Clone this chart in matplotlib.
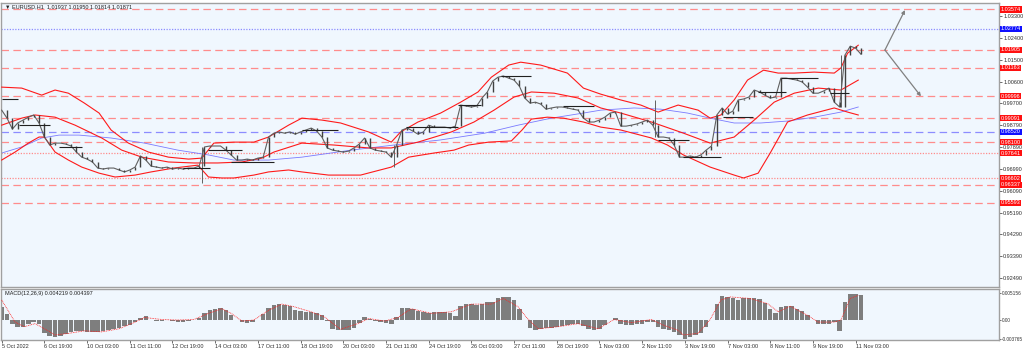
import matplotlib
matplotlib.use("Agg")
import matplotlib.pyplot as plt
import matplotlib.transforms as mtransforms
import numpy as np

# EURUSD H1, one value every 4 bars (close)
bar_step = 4
close = [
    0.9942, 0.9909, 0.9864, 0.9889, 0.9901, 0.9913, 0.9922, 0.9889, 0.9831, 0.9798,
    0.9806, 0.9806, 0.9802, 0.9794, 0.9769, 0.9748, 0.9740, 0.9728, 0.9703, 0.9699,
    0.9703, 0.9703, 0.9695, 0.9687, 0.9695, 0.9707, 0.9753, 0.9736, 0.9711, 0.9707,
    0.9703, 0.9707, 0.9699, 0.9703, 0.9699, 0.9703, 0.9703, 0.9711, 0.9790, 0.9794,
    0.9794, 0.9794, 0.9777, 0.9757, 0.9736, 0.9736, 0.9740, 0.9736, 0.9744, 0.9748,
    0.9831, 0.9847, 0.9852, 0.9847, 0.9852, 0.9843, 0.9852, 0.9860, 0.9868, 0.9856,
    0.9831, 0.9786, 0.9777, 0.9773, 0.9769, 0.9773, 0.9786, 0.9802, 0.9827, 0.9786,
    0.9777, 0.9773, 0.9769, 0.9748, 0.9798, 0.9860, 0.9868, 0.9856, 0.9843, 0.9852,
    0.9880, 0.9872, 0.9872, 0.9872, 0.9868, 0.9876, 0.9963, 0.9959, 0.9955, 0.9959,
    0.9992, 1.0017, 1.0062, 1.0078, 1.0083, 1.0074, 1.0066, 1.0041, 0.9992, 0.9971,
    0.9975, 0.9967, 0.9946, 0.9951, 0.9955, 0.9955, 0.9951, 0.9946, 0.9942, 0.9909,
    0.9893, 0.9893, 0.9901, 0.9913, 0.9930, 0.9934, 0.9876, 0.9876, 0.9880, 0.9885,
    0.9893, 0.9901, 0.9880, 0.9831, 0.9831, 0.9827, 0.9798, 0.9748, 0.9748, 0.9753,
    0.9748, 0.9757, 0.9777, 0.9794, 0.9922, 0.9951, 0.9926, 0.9938, 0.9984, 0.9988,
    0.9996, 1.0025, 1.0017, 1.0004, 0.9992, 0.9996, 1.0074, 1.0074, 1.0070, 1.0066,
    1.0058, 1.0037, 1.0012, 1.0012, 1.0021, 1.0033, 0.9975, 0.9955, 1.0169, 1.0206,
    1.0198, 1.0173,
]
# a few long wicks
wick_bars = [150, 294, 490, 629]
wick_lo = [0.9641, 0.9707, 0.9831, 0.9955]
wick_hi = [0.9790, 0.9798, 0.9984, 1.0169]

# short horizontal black segments
seg_start = [0, 13, 43, 136, 155, 172, 225, 303, 342, 374, 421, 492, 511, 541, 567, 584, 621]
seg_end = [12, 36, 60, 156, 180, 204, 252, 342, 359, 397, 444, 515, 539, 563, 588, 612, 635]
seg_price = [0.9988, 0.9880, 0.9790, 0.9703, 0.9777, 0.9728, 0.9860, 0.9872, 0.9963, 1.0083,
             0.9959, 0.9819, 0.9748, 0.9913, 1.0017, 1.0074, 1.0012]

# bollinger bands
up_bars = [0, 15, 30, 40, 50, 62, 73, 82, 95, 110, 125, 140, 150, 159, 174, 189, 200, 215, 225,
           240, 254, 275, 292, 299, 312, 329, 344, 357, 367, 380, 389, 404, 424, 436, 449, 464,
           479, 492, 507, 522, 531, 539, 549, 559, 571, 582, 594, 609, 624, 629, 634, 642]
up_vals = [1.0037, 1.0033, 1.0004, 1.0025, 1.0012, 0.9971, 0.9930, 0.9860, 0.9806, 0.9769,
           0.9748, 0.9740, 0.9744, 0.9806, 0.9810, 0.9810, 0.9831, 0.9880, 0.9909, 0.9901,
           0.9889, 0.9852, 0.9810, 0.9852, 0.9893, 0.9930, 0.9975, 1.0017, 1.0078, 1.0128,
           1.0140, 1.0128, 1.0095, 1.0033, 1.0008, 0.9984, 0.9963, 0.9934, 0.9963, 0.9942,
           0.9909, 0.9922, 0.9984, 1.0066, 1.0107, 1.0095, 1.0095, 1.0099, 1.0095, 1.0116,
           1.0177, 1.0210]
mid_bars = [0, 15, 25, 40, 55, 75, 90, 105, 125, 144, 162, 180, 195, 204, 225, 249, 275, 292,
            312, 337, 354, 369, 384, 397, 414, 432, 449, 464, 487, 511, 531, 549, 564, 579, 594,
            612, 629, 642]
mid_vals = [0.9880, 0.9909, 0.9922, 0.9913, 0.9880, 0.9827, 0.9777, 0.9748, 0.9728, 0.9724,
            0.9724, 0.9728, 0.9744, 0.9769, 0.9806, 0.9798, 0.9786, 0.9786, 0.9810, 0.9852,
            0.9893, 0.9942, 0.9996, 1.0017, 1.0012, 0.9992, 0.9951, 0.9930, 0.9893, 0.9847,
            0.9806, 0.9831, 0.9901, 0.9975, 1.0012, 1.0033, 1.0025, 1.0066]
low_bars = [0, 10, 20, 28, 32, 40, 50, 60, 73, 85, 100, 112, 129, 147, 155, 165, 174, 189, 200,
            215, 225, 245, 269, 292, 305, 324, 339, 350, 365, 382, 390, 397, 409, 421, 436, 449,
            464, 487, 499, 511, 531, 549, 556, 567, 576, 589, 604, 624, 634, 642]
low_vals = [0.9736, 0.9769, 0.9806, 0.9831, 0.9831, 0.9769, 0.9736, 0.9707, 0.9682, 0.9666,
            0.9674, 0.9687, 0.9703, 0.9715, 0.9666, 0.9662, 0.9662, 0.9674, 0.9687, 0.9695,
            0.9687, 0.9674, 0.9674, 0.9707, 0.9748, 0.9765, 0.9777, 0.9798, 0.9810, 0.9815,
            0.9860, 0.9905, 0.9913, 0.9909, 0.9893, 0.9872, 0.9860, 0.9827, 0.9798, 0.9757,
            0.9707, 0.9674, 0.9662, 0.9682, 0.9765, 0.9893, 0.9922, 0.9951, 0.9934, 0.9922]

# slow moving average (blue)
ma_bars = [0, 15, 30, 43, 58, 82, 107, 132, 155, 174, 200, 225, 262, 294, 329, 362, 387, 412,
           436, 449, 474, 494, 514, 531, 549, 569, 589, 609, 629, 642]
ma_vals = [0.9765, 0.9790, 0.9827, 0.9839, 0.9839, 0.9827, 0.9806, 0.9777, 0.9757, 0.9736,
           0.9736, 0.9748, 0.9777, 0.9798, 0.9819, 0.9847, 0.9880, 0.9909, 0.9930, 0.9942,
           0.9951, 0.9946, 0.9930, 0.9909, 0.9889, 0.9889, 0.9897, 0.9913, 0.9934, 0.9955]

# horizontal levels
lvl_price = [1.03574, 1.02774, 1.01905, 1.01163, 0.99996, 0.99091, 0.98520, 0.98100,
             0.97641, 0.96602, 0.96337, 0.95593]
lvl_color = ["r", "b", "r", "r", "r", "r", "b", "r", "r", "r", "r", "r"]
lvl_style = ["dash", "dot", "dash", "dash", "dash", "dash", "dash", "dash",
             "dot", "dot", "dash", "dash"]

# projection arrows
arrow_from = (662, 1.0190)
arrow_to = [(677, 1.0355), (689, 0.9999)]

price_ticks = [1.033, 1.024, 1.015, 1.006, 0.997, 0.9879, 0.9789, 0.9699, 0.9609, 0.9519,
               0.9429, 0.9339, 0.9249]
price_tick_labels = ["1.03300", "1.02400", "1.01500", "1.00600", "0.99700", "0.98790", "0.97890",
                     "0.96990", "0.96090", "0.95190", "0.94290", "0.93390", "0.92490"]

# MACD histogram (same 4-bar steps) and signal line
macd = [
    0.0025, 0.0010, -0.0009, -0.0015, -0.0015, -0.0008, -0.0005, -0.0009, -0.0027, -0.0032,
    -0.0034, -0.0032, -0.0028, -0.0025, -0.0023, -0.0022, -0.0024, -0.0025, -0.0024, -0.0023,
    -0.0021, -0.0019, -0.0016, -0.0013, -0.0010, -0.0004, 0.0003, 0.0006, 0.0000, -0.0003,
    -0.0002, -0.0001, -0.0003, -0.0004, -0.0004, -0.0003, 0.0000, 0.0003, 0.0012, 0.0019,
    0.0021, 0.0023, 0.0019, 0.0008, -0.0001, -0.0005, -0.0006, -0.0004, -0.0001, 0.0010,
    0.0022, 0.0029, 0.0030, 0.0029, 0.0026, 0.0018, 0.0016, 0.0015, 0.0014, 0.0013,
    0.0009, -0.0003, -0.0018, -0.0021, -0.0021, -0.0020, -0.0016, -0.0007, 0.0005, 0.0001,
    -0.0002, -0.0004, -0.0006, -0.0008, 0.0005, 0.0022, 0.0023, 0.0020, 0.0017, 0.0014,
    0.0012, 0.0014, 0.0015, 0.0015, 0.0012, 0.0006, 0.0027, 0.0030, 0.0031, 0.0029,
    0.0030, 0.0034, 0.0035, 0.0041, 0.0043, 0.0044, 0.0038, 0.0020, -0.0001, -0.0016,
    -0.0021, -0.0019, -0.0017, -0.0016, -0.0015, -0.0012, -0.0010, -0.0009, -0.0008, -0.0013,
    -0.0018, -0.0020, -0.0019, -0.0010, 0.0000, 0.0003, -0.0008, -0.0010, -0.0011, -0.0009,
    -0.0008, -0.0005, -0.0004, -0.0014, -0.0019, -0.0021, -0.0024, -0.0030, -0.0037, -0.0034,
    -0.0031, -0.0027, -0.0015, 0.0000, 0.0030, 0.0046, 0.0044, 0.0041, 0.0038, 0.0041,
    0.0041, 0.0041, 0.0040, 0.0033, 0.0020, 0.0012, 0.0025, 0.0026, 0.0026, 0.0021,
    0.0017, 0.0008, 0.0000, -0.0008, -0.0009, -0.0008, -0.0005, -0.0022, 0.0035, 0.0049,
    0.0050, 0.0047,
]
sig_bars = [0, 10, 17, 25, 32, 40, 50, 62, 75, 88, 100, 107, 120, 132, 144, 155, 165, 172, 180,
            189, 200, 210, 219, 232, 242, 254, 267, 275, 287, 297, 307, 322, 337, 352, 367, 376,
            387, 394, 402, 417, 432, 447, 459, 472, 487, 496, 507, 511, 522, 531, 539, 546, 561,
            574, 582, 591, 604, 612, 624, 629, 636, 642]
sig_vals = [0.0038, -0.0005, -0.0014, -0.0008, -0.0018, -0.0030, -0.0027, -0.0022, -0.0024,
            -0.0018, -0.0005, 0.0004, 0.0000, -0.0001, 0.0000, 0.0012, 0.0021, 0.0012, -0.0003,
            -0.0001, 0.0018, 0.0030, 0.0025, 0.0015, 0.0005, -0.0019, -0.0008, 0.0002, -0.0003,
            0.0004, 0.0021, 0.0012, 0.0015, 0.0030, 0.0030, 0.0041, 0.0025, 0.0002, -0.0018,
            -0.0014, -0.0008, -0.0018, 0.0000, -0.0006, 0.0000, -0.0011, -0.0021, -0.0030,
            -0.0027, 0.0000, 0.0038, 0.0044, 0.0041, 0.0031, 0.0015, 0.0026, 0.0008, -0.0005,
            -0.0005, -0.0001, 0.0041, 0.0047]

date_bars = list(range(0, 641, 32))
date_labels = ["5 Oct 2022", "6 Oct 19:00", "10 Oct 03:00", "11 Oct 11:00", "12 Oct 19:00",
               "14 Oct 03:00", "17 Oct 11:00", "18 Oct 19:00", "20 Oct 03:00", "21 Oct 11:00",
               "24 Oct 19:00", "26 Oct 03:00", "27 Oct 11:00", "28 Oct 19:00", "1 Nov 03:00",
               "2 Nov 11:00", "3 Nov 19:00", "7 Nov 03:00", "8 Nov 11:00", "9 Nov 19:00",
               "11 Nov 03:00"]

bg = "#f0f7fe"
fs = 4.0
plt.rcParams["font.family"] = ["Liberation Sans", "DejaVu Sans"]

fig = plt.figure(figsize=(10.24, 3.51), dpi=100)
fig.patch.set_facecolor("white")
ax = fig.add_axes([0.001, 0.1823, 0.9746, 0.809])
ax2 = fig.add_axes([0.001, 0.0313, 0.9746, 0.1453], sharex=ax)

for a in (ax, ax2):
    a.set_facecolor(bg)
    for s in a.spines.values():
        s.set_color("#a0a0a0")
        s.set_linewidth(1.0)
    a.yaxis.tick_right()
    a.tick_params(axis="y", length=2, pad=1, labelsize=fs, colors="#303030", width=0.5)

# levels
red_l = "#ff8c8c"
blue_l = "#8c8cff"
for p, c, st in zip(lvl_price, lvl_color, lvl_style):
    col = red_l if c == "r" else blue_l
    ls = (0, (6, 3.5)) if st == "dash" else (0, (1, 1.2))
    ax.axhline(p, color=col, lw=0.9, ls=ls, zorder=1)

# bands and MA
ax.plot(ma_bars, ma_vals, color="#7a7aff", lw=0.6, zorder=2)
ax.plot(up_bars, up_vals, color="#ff1a1a", lw=0.8, zorder=3)
ax.plot(mid_bars, mid_vals, color="#ff1a1a", lw=0.8, zorder=3)
ax.plot(low_bars, low_vals, color="#ff1a1a", lw=0.8, zorder=3)

# price
bars = np.arange(len(close)) * bar_step
close = np.array(close)
opens = np.concatenate([[close[0]], close[:-1]])
ax.plot(bars, close, color="#606060", lw=0.8, zorder=4)
ax.vlines(bars, np.minimum(opens, close), np.maximum(opens, close), color="#404040",
          lw=1.0, zorder=4)
ax.vlines(wick_bars, wick_lo, wick_hi, color="#606060", lw=0.7, zorder=4)
ax.hlines(seg_price, seg_start, seg_end, color="#202020", lw=0.8, zorder=4)

for tx, ty in arrow_to:
    ax.annotate("", xy=(tx, ty), xytext=arrow_from,
                arrowprops=dict(arrowstyle="-|>", color="#808080", lw=0.9,
                                mutation_scale=5, shrinkA=0, shrinkB=0), zorder=5)

ax.set_ylim(0.9212, 1.0384)
ax.set_yticks(price_ticks)
ax.set_yticklabels(price_tick_labels)
ax.set_xlim(-0.5, 747.5)
ax.tick_params(axis="x", bottom=False, labelbottom=False)

trans = mtransforms.blended_transform_factory(ax.transAxes, ax.transData)
for p, c in zip(lvl_price, lvl_color):
    ax.text(1.002, p, f"{p:.5f}", transform=trans, fontsize=fs, color="white",
            ha="left", va="center", clip_on=False, zorder=10,
            bbox=dict(boxstyle="square,pad=0.12", fc="#ff1010" if c == "r" else "#1010ff",
                      ec="none"))

ax.text(0.004, 0.997, "\u25bc EURUSD,H1  1.01937 1.01950 1.01814 1.01871", transform=ax.transAxes,
        fontsize=fs, color="#202020", ha="left", va="top")

# MACD
macd_bars = np.arange(len(macd)) * bar_step
ax2.bar(macd_bars, macd, width=bar_step * 0.85, color="#7e7e7e", linewidth=0, zorder=2)
ax2.plot(sig_bars, sig_vals, color="#ff2020", lw=0.6, ls=(0, (1, 1)), zorder=3)
ax2.set_ylim(-0.00399, 0.00594)
ax2.set_yticks([0.005156, 0.0, -0.003765])
ax2.set_yticklabels(["0.005156", "0.00", "-0.003765"])
ax2.tick_params(axis="y", labelsize=3.4, pad=0.5, length=1.5)
ax2.text(0.004, 0.96, "MACD(12,26,9) 0.004219 0.004397", transform=ax2.transAxes,
         fontsize=fs, color="#202020", ha="left", va="top")
ax2.set_xticks(date_bars)
ax2.set_xticklabels(date_labels, ha="left")
ax2.tick_params(axis="x", length=2, pad=1, labelsize=fs, colors="#303030", width=0.5)
ax2.set_xlim(-0.5, 747.5)

fig.savefig("out.png", dpi=100, facecolor="white")
